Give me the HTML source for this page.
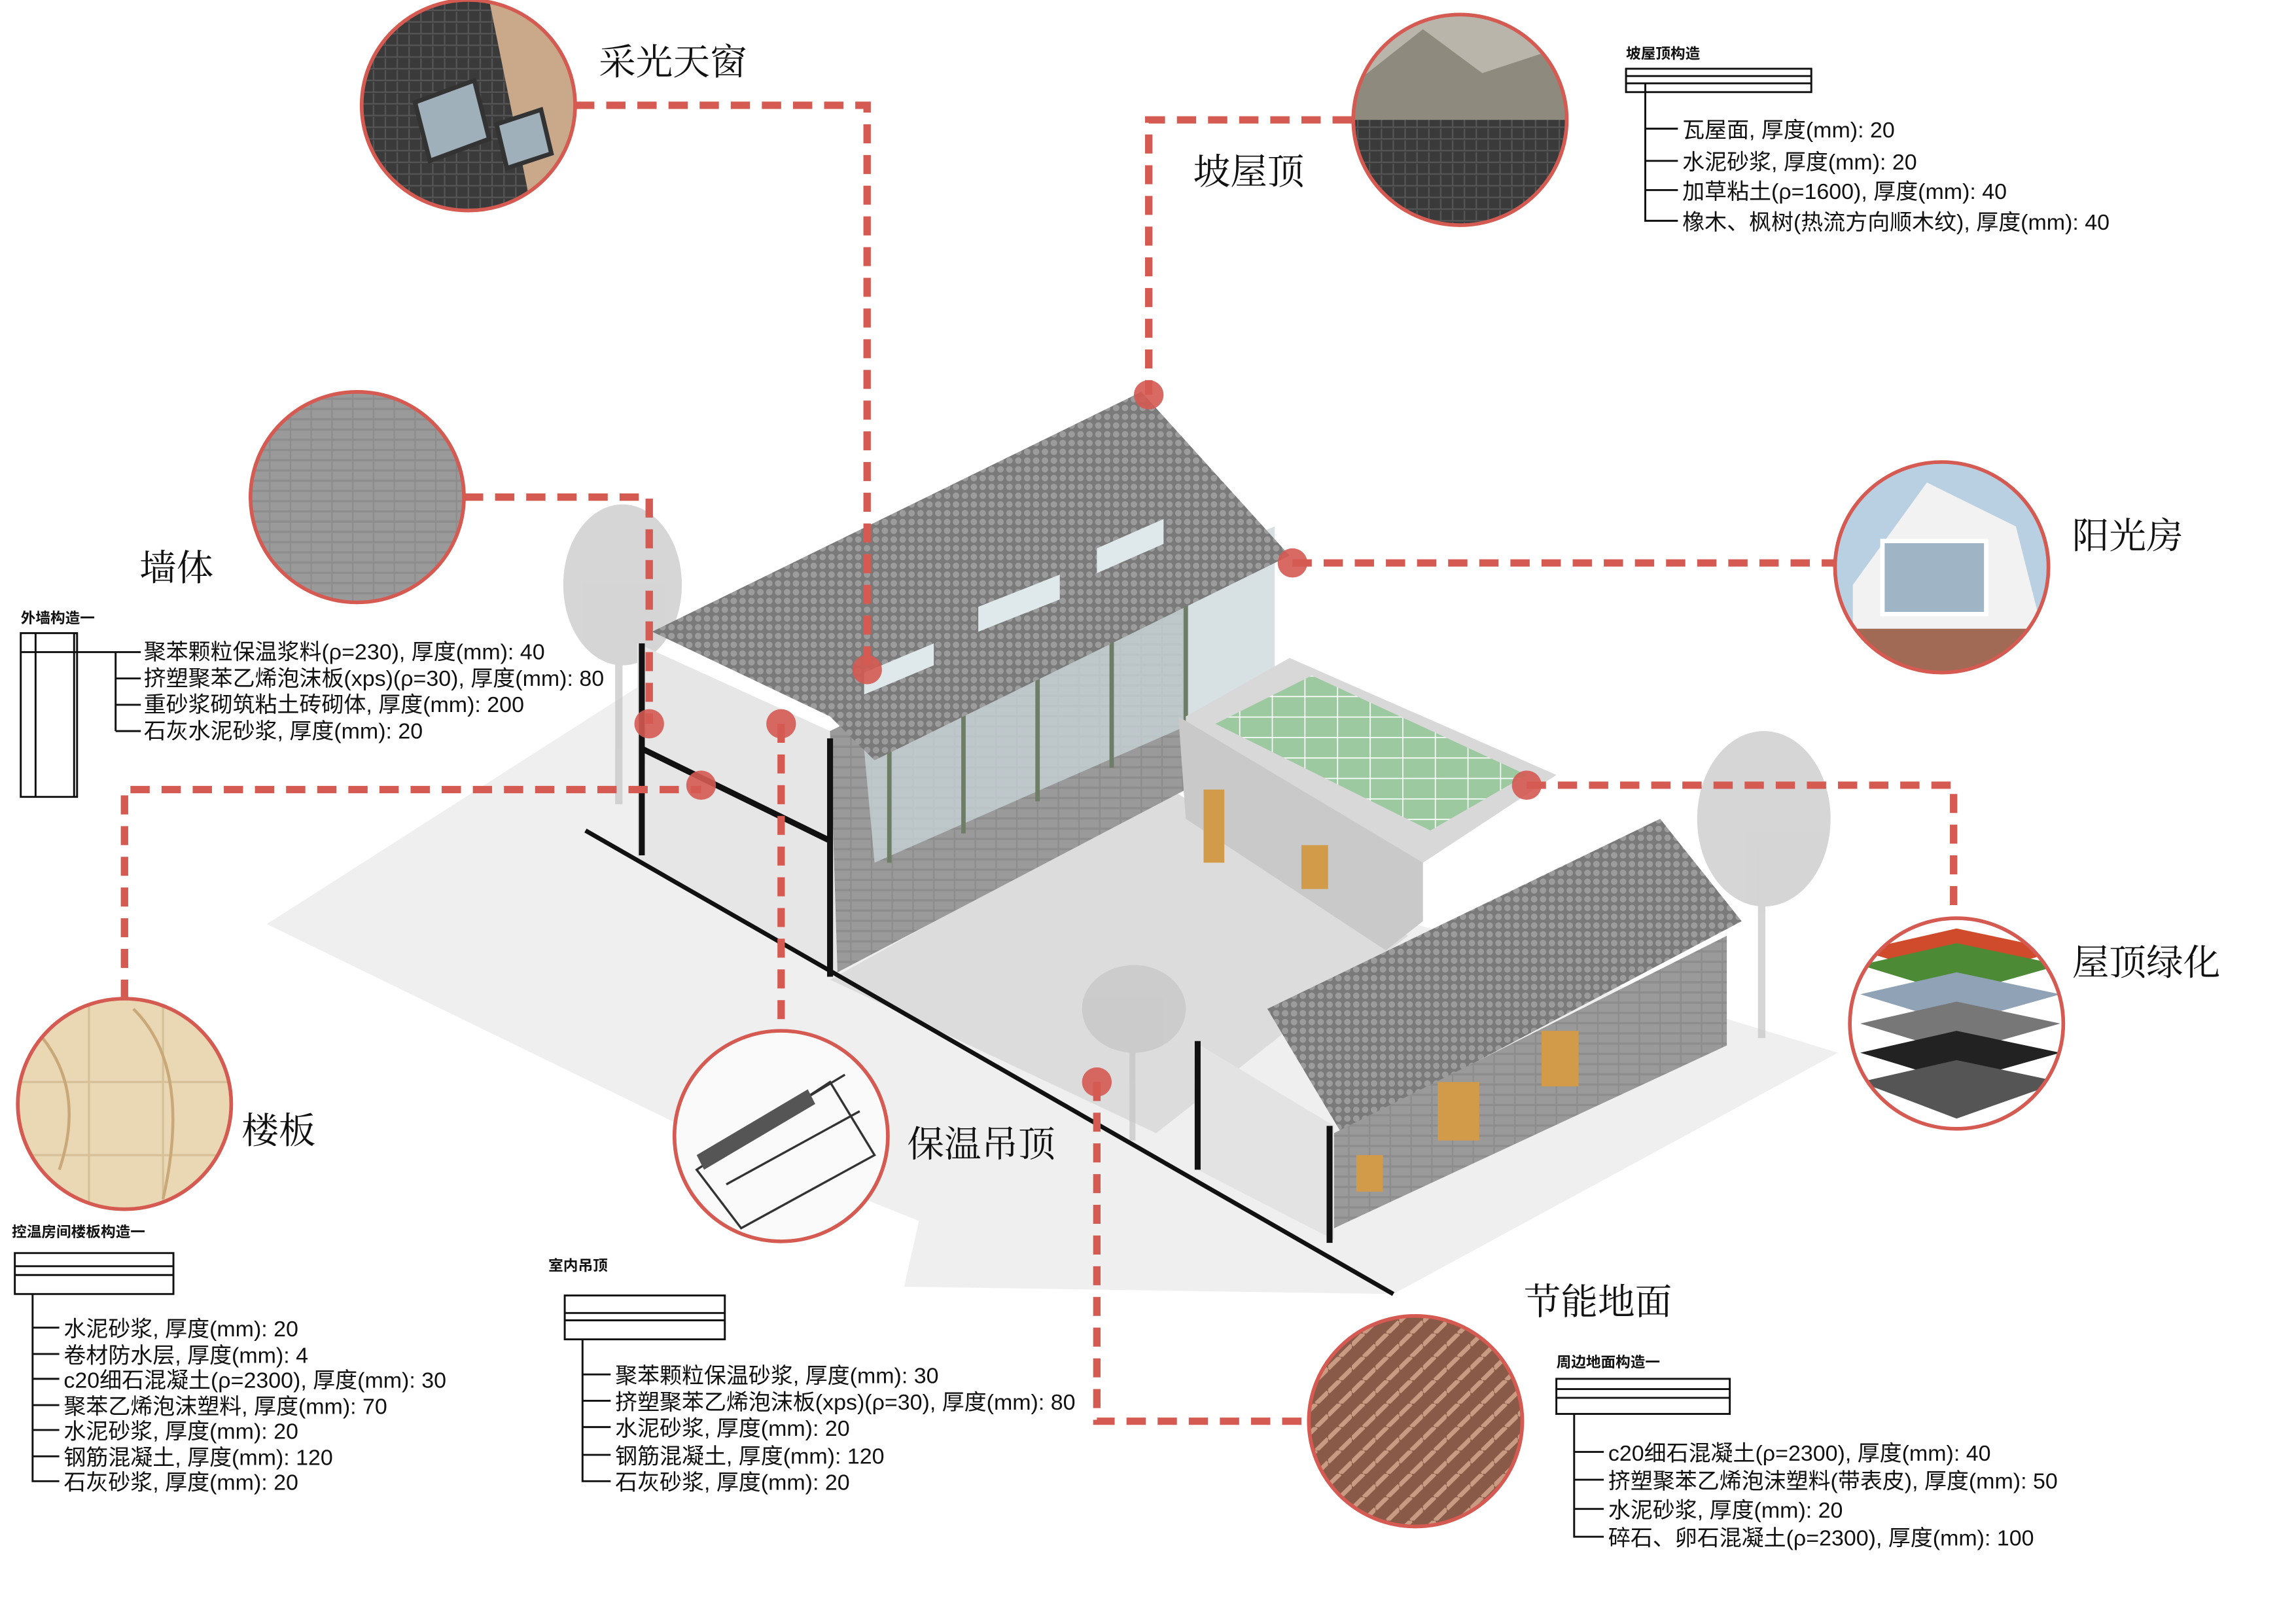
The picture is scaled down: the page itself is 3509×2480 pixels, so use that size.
<!DOCTYPE html>
<html><head><meta charset="utf-8"><style>
html,body{margin:0;padding:0;background:#fff;}
svg{display:block;}
.t{font-family:"Liberation Sans","Noto Sans CJK SC",sans-serif;fill:#111;}
.it{font-size:15px;}
.lbl{font-size:25px;font-family:"Liberation Serif","Noto Serif CJK SC",serif;fill:#111;}
.ttl{font-size:10px;font-weight:bold;}
.dash{fill:none;stroke:#d45a52;stroke-width:5;stroke-dasharray:13 8;}
.ring{stroke:#d45a52;stroke-width:2.5;fill:none;}
.ln{stroke:#111;stroke-width:1.3;fill:none;}
</style></head><body>
<svg width="3509" height="2480" viewBox="0 0 1549 1110" preserveAspectRatio="none" xmlns="http://www.w3.org/2000/svg">
<defs>
<pattern id="brick" width="14" height="7" patternUnits="userSpaceOnUse"><rect width="14" height="7" fill="#8d8d8d"/><rect x="0.5" y="0.5" width="13" height="5.5" fill="#9a9a9a"/></pattern>
<pattern id="tile" width="6" height="6" patternUnits="userSpaceOnUse"><rect width="6" height="6" fill="#7a7a7a"/><circle cx="3" cy="3" r="2.2" fill="#9c9c9c"/></pattern>
<pattern id="herring" width="16" height="16" patternUnits="userSpaceOnUse"><rect width="16" height="16" fill="#8a5a48"/><path d="M0 8 L8 0 M8 16 L16 8" stroke="#c89b82" stroke-width="3"/></pattern>
<pattern id="green" width="22" height="14" patternUnits="userSpaceOnUse"><rect width="22" height="14" fill="#9cc9a0"/><path d="M0 0H22M0 0V14" stroke="#fff" stroke-width="1.5"/></pattern>
<pattern id="rooftile" width="8" height="8" patternUnits="userSpaceOnUse"><rect width="8" height="8" fill="#3a3a3a"/><path d="M0 7H8M4 0V7" stroke="#555" stroke-width="1"/></pattern>
<clipPath id="c1"><circle cx="316" cy="72" r="72"/></clipPath>
<clipPath id="c2"><circle cx="985" cy="82" r="72"/></clipPath>
<clipPath id="c4"><circle cx="1310" cy="388" r="72"/></clipPath>
<clipPath id="c5"><circle cx="1320" cy="700" r="72"/></clipPath>
<clipPath id="c6"><circle cx="84" cy="755" r="72"/></clipPath>
<clipPath id="c7"><circle cx="527" cy="777" r="72"/></clipPath>
</defs>
<rect width="1549" height="1110" fill="#fff"/>

<!-- ground shadow -->
<polygon points="180,632 430,470 1240,720 940,885 610,880 620,835 460,770" fill="#efefef"/>
<polygon points="560,670 790,540 950,640 780,775" fill="#dcdcdc"/>
<!-- trees -->
<g fill="#c4c4c4" opacity="0.7">
<ellipse cx="420" cy="400" rx="40" ry="55"/><rect x="415" y="420" width="5" height="130"/>
<ellipse cx="1190" cy="560" rx="45" ry="60"/><rect x="1186" y="580" width="5" height="130"/>
<ellipse cx="765" cy="690" rx="35" ry="30"/><rect x="762" y="700" width="4" height="80"/>
</g>
<!-- left building section -->
<polygon points="430,440 560,500 565,665 430,590" fill="#e6e6e6"/>
<polygon points="560,500 800,380 800,540 565,665" fill="url(#brick)"/>
<polygon points="580,480 860,360 860,470 590,590" fill="#c9d6d8" opacity="0.75"/>
<path d="M600,470 L600,590 M650,450 L650,570 M700,428 L700,548 M750,405 L750,525 M800,385 L800,505" stroke="#6d7d66" stroke-width="3"/>
<path d="M433,440 L433,585 M560,505 L560,668 M433,512 L560,575" stroke="#111" stroke-width="4"/>
<line x1="395" y1="568" x2="940" y2="885" stroke="#111" stroke-width="3"/>
<!-- main roof -->
<polygon points="440,432 770,268 870,380 590,520 560,490" fill="url(#tile)"/>
<polygon points="583,460 630,440 630,455 583,475" fill="#dfe8ea"/>
<polygon points="660,415 715,393 715,410 660,432" fill="#dfe8ea"/>
<polygon points="740,375 785,355 785,372 740,392" fill="#dfe8ea"/>
<!-- rooftop terrace -->
<polygon points="800,490 870,450 1050,530 960,590 800,520" fill="#d8d8d8"/>
<polygon points="820,495 885,462 1030,530 965,568" fill="url(#green)"/>
<polygon points="795,490 960,590 960,630 935,650 800,560" fill="#c9c9c9"/>
<!-- right building -->
<polygon points="855,690 1120,560 1175,630 905,775" fill="url(#tile)"/>
<polygon points="900,775 1165,640 1165,715 900,840" fill="url(#brick)"/>
<polygon points="805,712 900,770 900,848 808,800" fill="#e3e3e3"/>
<path d="M808,712 L808,800 M897,770 L897,850" stroke="#111" stroke-width="4"/>
<g fill="#d29b4a"><rect x="915" y="790" width="18" height="25"/><rect x="970" y="740" width="28" height="40"/><rect x="1040" y="705" width="25" height="38"/><rect x="878" y="578" width="18" height="30"/><rect x="812" y="540" width="14" height="50"/></g>

<!-- dashed connectors -->
<path class="dash" d="M388,72 H585 V458"/>
<path class="dash" d="M912,82 H775 V270"/>
<path class="dash" d="M313,340 H438 V495"/>
<path class="dash" d="M872,385 H1238"/>
<path class="dash" d="M1030,537 H1318 V628"/>
<path class="dash" d="M84,683 V540 H473"/>
<path class="dash" d="M527,495 V705"/>
<path class="dash" d="M740,740 V972 H883"/>
<g fill="#d45a52" opacity="0.9">
<circle cx="775" cy="270" r="10"/><circle cx="872" cy="385" r="10"/><circle cx="585" cy="458" r="10"/><circle cx="438" cy="495" r="10"/><circle cx="527" cy="495" r="10"/><circle cx="473" cy="537" r="10"/><circle cx="1030" cy="537" r="10"/><circle cx="740" cy="740" r="10"/>
</g>

<!-- detail circles -->
<g clip-path="url(#c1)"><rect x="240" y="0" width="160" height="150" fill="url(#rooftile)"/><polygon points="330,0 400,0 400,150 360,150" fill="#c9a98a"/><polygon points="280,70 320,55 330,95 290,110" fill="#9fb0bb" stroke="#333" stroke-width="3"/><polygon points="335,85 365,75 372,105 342,115" fill="#9fb0bb" stroke="#333" stroke-width="3"/></g>
<circle class="ring" cx="316" cy="72" r="72"/>
<g clip-path="url(#c2)"><rect x="910" y="5" width="150" height="80" fill="#b9b5aa"/><polygon points="910,60 960,20 1000,50 1060,30 1060,85 910,85" fill="#8f8a7e"/><rect x="910" y="82" width="150" height="80" fill="url(#rooftile)"/></g>
<circle class="ring" cx="985" cy="82" r="72"/>
<circle class="ring" cx="241" cy="340" r="72" fill="url(#brick)" style="fill:url(#brick)"/>
<g clip-path="url(#c4)"><rect x="1235" y="315" width="150" height="150" fill="#b9cfe2"/><polygon points="1250,400 1300,330 1360,360 1385,460 1250,460" fill="#f2f2f2"/><rect x="1270" y="370" width="70" height="50" fill="#9fb4c4" stroke="#fff" stroke-width="3"/><rect x="1235" y="430" width="150" height="35" fill="#a06a55"/></g>
<circle class="ring" cx="1310" cy="388" r="72"/>
<g clip-path="url(#c5)"><rect x="1245" y="625" width="150" height="150" fill="#fff"/><polygon points="1255,650 1320,635 1390,650 1320,670" fill="#d04a2c"/><polygon points="1255,660 1320,645 1390,660 1320,680" fill="#4d8a36"/><polygon points="1255,680 1320,665 1390,680 1320,700" fill="#8fa2b6"/><polygon points="1255,700 1320,685 1390,700 1320,720" fill="#777"/><polygon points="1255,720 1320,705 1390,720 1320,740" fill="#222"/><polygon points="1255,740 1320,725 1390,740 1320,765" fill="#555"/></g>
<circle class="ring" cx="1320" cy="700" r="72"/>
<g clip-path="url(#c6)"><rect x="10" y="680" width="150" height="150" fill="#ead7b3"/><path d="M60,683 V830 M110,683 V830 M10,740 H160 M10,790 H160" stroke="#d6c19a" stroke-width="1.5"/><path d="M20,700 Q60,740 40,800 M90,690 Q130,730 110,820" stroke="#c9a97a" stroke-width="2" fill="none"/></g>
<circle class="ring" cx="84" cy="755" r="72"/>
<g clip-path="url(#c7)"><rect x="455" y="705" width="150" height="150" fill="#fafafa"/><path d="M470,800 L560,740 L590,790 L500,840 Z M480,790 L570,735 M490,810 L580,760" stroke="#333" stroke-width="1.5" fill="none"/><polygon points="470,790 545,745 550,755 475,800" fill="#555"/></g>
<circle class="ring" cx="527" cy="777" r="72"/>
<circle class="ring" cx="955" cy="972" r="72" style="fill:url(#herring)"/>

<!-- labels -->
<text class="lbl" x="404" y="51">采光天窗</text>
<text class="lbl" x="805" y="126">坡屋顶</text>
<text class="lbl" x="94" y="397">墙体</text>
<text class="lbl" x="1398" y="375">阳光房</text>
<text class="lbl" x="1398" y="667">屋顶绿化</text>
<text class="lbl" x="163" y="782">楼板</text>
<text class="lbl" x="612" y="791">保温吊顶</text>
<text class="lbl" x="1028" y="899">节能地面</text>

<!-- wall legend -->
<text class="t ttl" x="14" y="426">外墙构造一</text>
<rect class="ln" x="14" y="433" width="38" height="112"/><line class="ln" x1="24" y1="433" x2="24" y2="545"/><line class="ln" x1="50" y1="433" x2="50" y2="545"/>
<path class="ln" d="M14,446 H95 M78,446 V500 M78,464 H95 M78,482 H95 M78,500 H95"/>
<g class="t it"><text x="97" y="451">聚苯颗粒保温浆料(ρ=230), 厚度(mm): 40</text><text x="97" y="469">挤塑聚苯乙烯泡沫板(xps)(ρ=30), 厚度(mm): 80</text><text x="97" y="487">重砂浆砌筑粘土砖砌体, 厚度(mm): 200</text><text x="97" y="505">石灰水泥砂浆, 厚度(mm): 20</text></g>

<!-- roof legend -->
<text class="t ttl" x="1097" y="40">坡屋顶构造</text>
<rect class="ln" x="1097" y="47" width="125" height="16"/><line class="ln" x1="1097" y1="52" x2="1222" y2="52"/><line class="ln" x1="1097" y1="57" x2="1222" y2="57"/>
<path class="ln" d="M1110,57 V151 H1132 M1110,88 H1132 M1110,110 H1132 M1110,130 H1132"/>
<g class="t it"><text x="1135" y="94">瓦屋面, 厚度(mm): 20</text><text x="1135" y="116">水泥砂浆, 厚度(mm): 20</text><text x="1135" y="136">加草粘土(ρ=1600), 厚度(mm): 40</text><text x="1135" y="157">橡木、枫树(热流方向顺木纹), 厚度(mm): 40</text></g>

<!-- floor legend -->
<text class="t ttl" x="8" y="846">控温房间楼板构造一</text>
<rect class="ln" x="10" y="857" width="107" height="28"/><line class="ln" x1="10" y1="866" x2="117" y2="866"/><line class="ln" x1="10" y1="872" x2="117" y2="872"/>
<path class="ln" d="M22,885 V1013 H40 M22,908 H40 M22,926 H40 M22,943 H40 M22,961 H40 M22,978 H40 M22,996 H40"/>
<g class="t it"><text x="43" y="914">水泥砂浆, 厚度(mm): 20</text><text x="43" y="932">卷材防水层, 厚度(mm): 4</text><text x="43" y="949">c20细石混凝土(ρ=2300), 厚度(mm): 30</text><text x="43" y="967">聚苯乙烯泡沫塑料, 厚度(mm): 70</text><text x="43" y="984">水泥砂浆, 厚度(mm): 20</text><text x="43" y="1002">钢筋混凝土, 厚度(mm): 120</text><text x="43" y="1019">石灰砂浆, 厚度(mm): 20</text></g>

<!-- ceiling legend -->
<text class="t ttl" x="370" y="869">室内吊顶</text>
<rect class="ln" x="381" y="886" width="108" height="30"/><line class="ln" x1="381" y1="898" x2="489" y2="898"/><line class="ln" x1="381" y1="903" x2="489" y2="903"/>
<path class="ln" d="M393,916 V1013 H412 M393,940 H412 M393,958 H412 M393,976 H412 M393,995 H412"/>
<g class="t it"><text x="415" y="946">聚苯颗粒保温砂浆, 厚度(mm): 30</text><text x="415" y="964">挤塑聚苯乙烯泡沫板(xps)(ρ=30), 厚度(mm): 80</text><text x="415" y="982">水泥砂浆, 厚度(mm): 20</text><text x="415" y="1001">钢筋混凝土, 厚度(mm): 120</text><text x="415" y="1019">石灰砂浆, 厚度(mm): 20</text></g>

<!-- ground legend -->
<text class="t ttl" x="1050" y="935">周边地面构造一</text>
<rect class="ln" x="1050" y="943" width="117" height="24"/><line class="ln" x1="1050" y1="950" x2="1167" y2="950"/><line class="ln" x1="1050" y1="956" x2="1167" y2="956"/>
<path class="ln" d="M1062,967 V1051 H1082 M1062,993 H1082 M1062,1012 H1082 M1062,1032 H1082"/>
<g class="t it"><text x="1085" y="999">c20细石混凝土(ρ=2300), 厚度(mm): 40</text><text x="1085" y="1018">挤塑聚苯乙烯泡沫塑料(带表皮), 厚度(mm): 50</text><text x="1085" y="1038">水泥砂浆, 厚度(mm): 20</text><text x="1085" y="1057">碎石、卵石混凝土(ρ=2300), 厚度(mm): 100</text></g>
</svg>
</body></html>
